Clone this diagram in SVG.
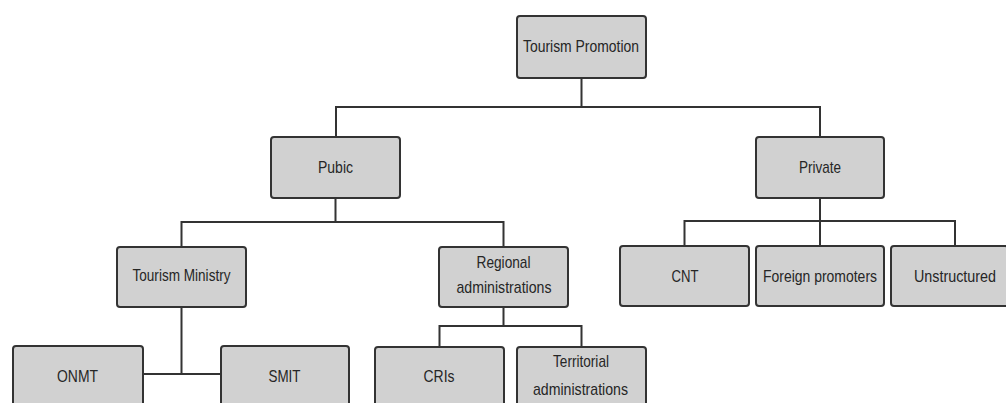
<svg xmlns="http://www.w3.org/2000/svg" width="1006" height="403" viewBox="0 0 1006 403">
<style>
.box{fill:#d1d1d1;stroke:#333;stroke-width:2}
.lbl{font-family:"Liberation Sans",Arial,sans-serif;font-size:17px;fill:#262626;text-anchor:middle}
.con{fill:none;stroke:#333;stroke-width:2}
</style>
<rect width="1006" height="403" fill="#fff"/>
<g id="connectors">
<path class="con" d="M581.5,78 V107 M336,137 V107 H820 V137"/>
<path class="con" d="M335.5,198 V222 M181.5,247 V222 H503.5 V247"/>
<path class="con" d="M181.5,307 V374 M143,374 H221"/>
<path class="con" d="M503.5,307 V326 M439.5,347 V326 H581.5 V347"/>
<path class="con" d="M820,198 V246 M684.5,246 V221 H955 V246"/>
</g>
<g id="tourism-promotion"><rect class="box" x="517" y="16" width="129" height="62" rx="3"/><text class="lbl" x="581" y="52" textLength="116" lengthAdjust="spacingAndGlyphs">Tourism Promotion</text></g>
<g id="pubic"><rect class="box" x="271" y="137" width="129" height="61" rx="3"/><text class="lbl" x="335.5" y="173" textLength="35" lengthAdjust="spacingAndGlyphs">Pubic</text></g>
<g id="private"><rect class="box" x="756" y="137" width="128" height="61" rx="3"/><text class="lbl" x="820" y="173" textLength="42" lengthAdjust="spacingAndGlyphs">Private</text></g>
<g id="tourism-ministry"><rect class="box" x="117" y="247" width="129" height="60" rx="3"/><text class="lbl" x="181.5" y="281" textLength="98" lengthAdjust="spacingAndGlyphs">Tourism Ministry</text></g>
<g id="regional-administrations"><rect class="box" x="439" y="247" width="129" height="60" rx="3"/><text class="lbl" x="503.5" y="268" textLength="54" lengthAdjust="spacingAndGlyphs">Regional</text><text class="lbl" x="504" y="293" textLength="95" lengthAdjust="spacingAndGlyphs">administrations</text></g>
<g id="cnt"><rect class="box" x="620" y="246" width="129" height="60" rx="3"/><text class="lbl" x="685" y="282" textLength="27" lengthAdjust="spacingAndGlyphs">CNT</text></g>
<g id="foreign-promoters"><rect class="box" x="756" y="246" width="128" height="60" rx="3"/><text class="lbl" x="820" y="282" textLength="114" lengthAdjust="spacingAndGlyphs">Foreign promoters</text></g>
<g id="unstructured"><rect class="box" x="891" y="246" width="117" height="60" rx="3"/><text class="lbl" x="955" y="282" textLength="82" lengthAdjust="spacingAndGlyphs">Unstructured</text></g>
<g id="onmt"><rect class="box" x="13" y="346" width="130" height="62" rx="3"/><text class="lbl" x="77.5" y="382" textLength="41" lengthAdjust="spacingAndGlyphs">ONMT</text></g>
<g id="smit"><rect class="box" x="221" y="346" width="128" height="62" rx="3"/><text class="lbl" x="284.5" y="382" textLength="32" lengthAdjust="spacingAndGlyphs">SMIT</text></g>
<g id="cris"><rect class="box" x="375" y="347" width="129" height="62" rx="3"/><text class="lbl" x="439" y="382" textLength="31" lengthAdjust="spacingAndGlyphs">CRIs</text></g>
<g id="territorial-administrations"><rect class="box" x="517" y="347" width="129" height="62" rx="3"/><text class="lbl" x="581" y="367" textLength="56" lengthAdjust="spacingAndGlyphs">Territorial</text><text class="lbl" x="580.5" y="395" textLength="95" lengthAdjust="spacingAndGlyphs">administrations</text></g>
</svg>
